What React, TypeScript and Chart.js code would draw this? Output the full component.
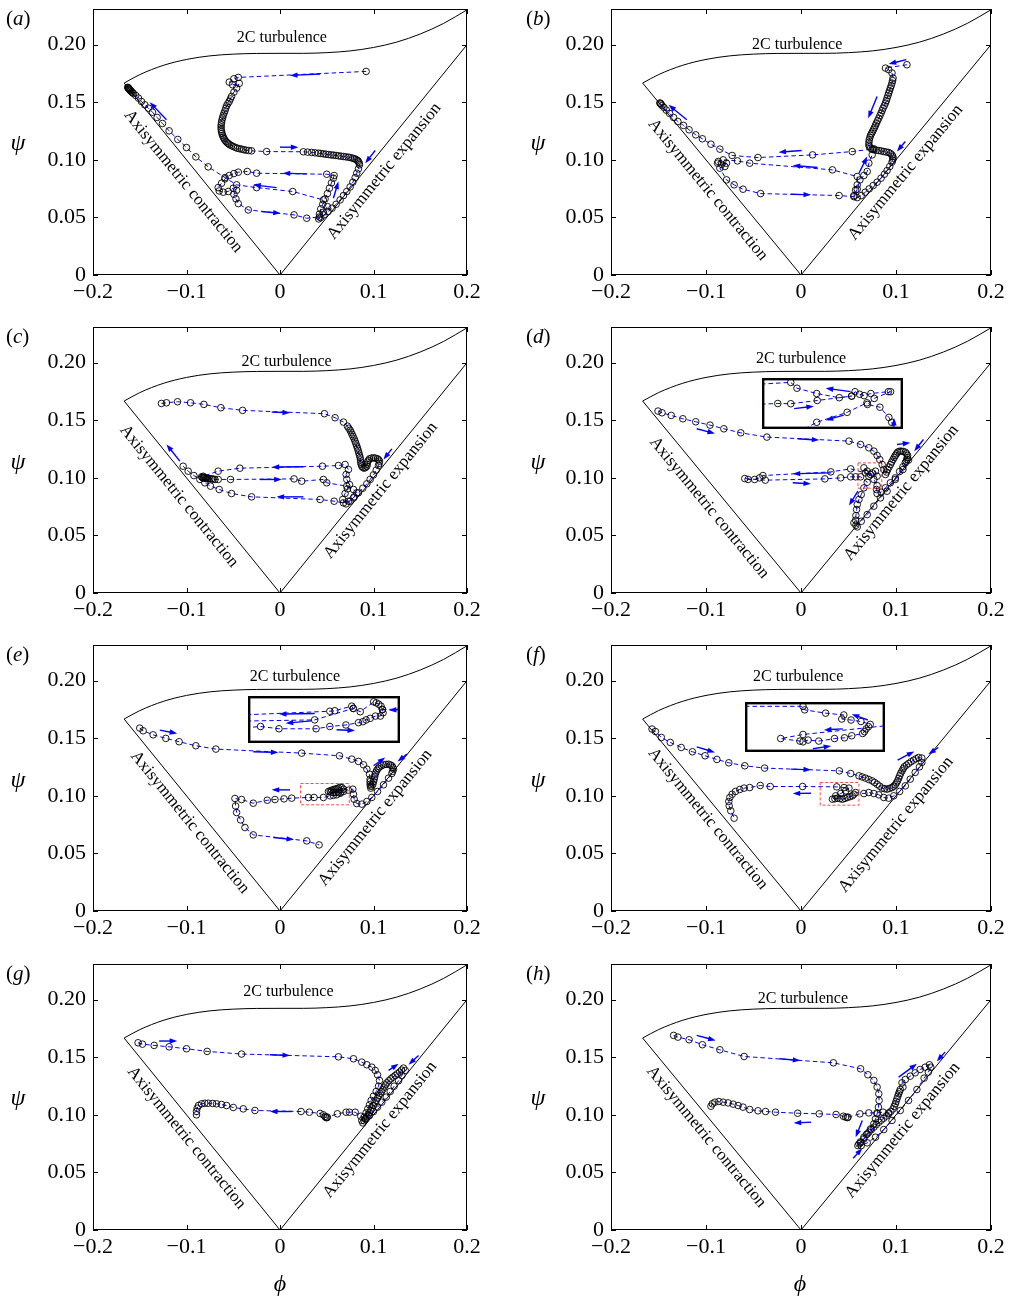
import React, { useEffect, useRef } from "react";
import { Chart, registerables } from "chart.js";
Chart.register(...registerables);

type Pt = [number, number];
type Arrow = [number, number, number, number];

const PHI_TICKS = [-0.2, -0.1, 0, 0.1, 0.2];
const PSI_TICKS = [0, 0.05, 0.1, 0.15, 0.2];
const PHI_MIN = -0.2;
const PHI_MAX = 0.2;
const PSI_MIN = 0;
const PSI_MAX = 0.231;

// Lumley triangle boundaries
const TWO_C_PHI = [-0.1667, -0.15, -0.125, -0.1, -0.075, -0.05, -0.025, 0, 0.025, 0.05, 0.075, 0.1, 0.125, 0.15, 0.175, 0.2];
const TWO_C_PSI = [0.1667, 0.174, 0.182, 0.1872, 0.1903, 0.1918, 0.1924, 0.1925, 0.1925, 0.1931, 0.1946, 0.1976, 0.2023, 0.2093, 0.2185, 0.2303];
const CONTRACTION: Pt[] = [[-0.1667, 0.1667], [0, 0]];
const EXPANSION: Pt[] = [[0, 0], [0.2, 0.2]];

// ---- trajectories (phi, psi) ----
const TRAJ_A: Pt[] = [
[0.0921,0.1768],[-0.0446,0.1716],[-0.0493,0.1704],[-0.0543,0.1675],[-0.0507,0.1652],[-0.0436,0.1664],[-0.0464,0.1623],[-0.0493,0.1588],
[-0.0518,0.1551],[-0.053,0.1529],[-0.0543,0.1507],[-0.0557,0.1489],[-0.0571,0.147],[-0.058,0.1448],[-0.0589,0.1426],[-0.0598,0.1406],[-0.0607,0.1386],[-0.0614,0.1365],[-0.0621,0.1345],[-0.0625,0.1324],[-0.0629,0.1304],[-0.063,0.1284],[-0.0629,0.1264],[-0.0625,0.1246],[-0.0621,0.1229],[-0.0614,0.1213],[-0.0607,0.1197],[-0.0598,0.1184],[-0.0589,0.1171],[-0.0577,0.1159],[-0.0564,0.1148],[-0.055,0.1139],[-0.0536,0.113],[-0.0518,0.1123],[-0.05,0.1116],[-0.0478,0.1108],[-0.0457,0.1101],[-0.0434,0.1097],[-0.0411,0.1093],[-0.0388,0.1088],[-0.0364,0.1084],[-0.0334,0.1081],[-0.0304,0.1078],[-0.0143,0.1072],
[0.025,0.107],[0.0295,0.1067],[0.0339,0.1064],[0.0375,0.1061],[0.0411,0.1058],[0.0437,0.1055],[0.0464,0.1052],[0.0491,0.1049],[0.0518,0.1046],[0.0545,0.1043],[0.0571,0.1041],[0.0598,0.1038],[0.0625,0.1035],[0.0652,0.1032],[0.0679,0.1029],[0.0705,0.1026],[0.0732,0.1023],[0.0756,0.1019],[0.0779,0.1014],[0.0798,0.1009],[0.0814,0.1003],[0.0829,0.0995],[0.0839,0.0986],[0.0847,0.0972],[0.085,0.0957],
[0.0839,0.0922],[0.0821,0.0884],[0.0804,0.0846],[0.0779,0.0806],[0.075,0.0765],[0.0714,0.0725],[0.0679,0.069],[0.0643,0.0652],[0.06,0.0614],[0.0557,0.058],[0.0514,0.0551],[0.0471,0.0522],[0.0436,0.0499],[0.0414,0.0487],
[0.0421,0.0528],[0.0436,0.0574],[0.0457,0.0614],[0.0482,0.0661],[0.0507,0.0707],[0.0529,0.0754],[0.055,0.08],[0.0571,0.0841],[0.0579,0.0864],[0.05,0.0875],
[-0.025,0.0884],[-0.035,0.0899],[-0.0446,0.0893],[-0.0493,0.0881],
[-0.0543,0.0864],[-0.0589,0.0835],[-0.0625,0.0797],[-0.0661,0.0759],[-0.065,0.073],[-0.0607,0.0719],[-0.0554,0.0725],[-0.05,0.0754],[-0.0464,0.0736],[-0.0493,0.0701],[-0.0471,0.0661],[-0.0446,0.062],[-0.0339,0.0565],
[0.015,0.0522],[0.0286,0.0493],[0.0421,0.0504],[0.0464,0.0545],[0.0507,0.0594],[0.0464,0.0652],[0.0136,0.0725],
[-0.025,0.0759],[-0.0464,0.0783],[-0.0589,0.0846],[-0.0768,0.0939],[-0.09,0.1026],[-0.1,0.1107],[-0.1093,0.1177],[-0.1186,0.1252],[-0.1257,0.1316],[-0.1314,0.1368],[-0.1364,0.1414],[-0.1407,0.1449],[-0.1446,0.1478],[-0.1482,0.1507],[-0.1514,0.1536],[-0.1543,0.1559],[-0.1568,0.1577],[-0.1579,0.1584],[-0.1586,0.1591],[-0.1596,0.1598],[-0.16,0.1603],[-0.1607,0.1608],[-0.1611,0.1612],[-0.1614,0.1616],[-0.1618,0.162],[-0.1621,0.1624],[-0.1625,0.1626],[-0.1629,0.163]
];

const TRAJ_B: Pt[] = [
[0.1115,0.1826],[0.0889,0.1797],[0.0923,0.1783],[0.0958,0.1754],[0.0969,0.171],[0.0964,0.1688],[0.0958,0.1667],[0.095,0.1645],[0.0941,0.1623],[0.0932,0.1601],[0.0923,0.158],[0.0915,0.1558],[0.0906,0.1536],[0.0898,0.1514],[0.0889,0.1493],[0.0877,0.1471],[0.0864,0.1449],[0.0854,0.1428],[0.0843,0.1406],[0.0831,0.1384],[0.0819,0.1362],[0.0806,0.134],[0.0794,0.1319],[0.0784,0.13],[0.0774,0.1281],[0.0763,0.1263],[0.0753,0.1246],[0.0742,0.1229],[0.0732,0.1212],[0.0725,0.1193],[0.0718,0.1174],[0.0715,0.1152],[0.0714,0.113],[0.072,0.1115],[0.0732,0.1101],[0.075,0.1092],[0.0767,0.1087],[0.0793,0.1084],[0.0819,0.1081],[0.0845,0.1077],[0.0871,0.1072],[0.0897,0.1068],[0.0923,0.1064],[0.0942,0.1055],[0.0958,0.1043],[0.0966,0.1029],[0.0969,0.1014],[0.0965,0.0997],[0.0958,0.098],
[0.0934,0.0942],[0.0906,0.0907],[0.0878,0.0875],[0.0843,0.0841],[0.0801,0.0806],[0.076,0.0777],[0.0718,0.0748],[0.0676,0.0719],[0.0634,0.069],[0.0592,0.0672],[0.0557,0.069],[0.0575,0.0739],[0.0592,0.0783],[0.0592,0.0855],
[0.0331,0.0913],[-0.054,0.0971],[-0.0669,0.0991],[-0.0819,0.1],[-0.0871,0.0986],[-0.0878,0.0971],[-0.0836,0.0962],[-0.0801,0.0942],[-0.0784,0.0971],[-0.0854,0.0928],[-0.0784,0.0826],[-0.0704,0.0783],[-0.061,0.0745],[-0.0425,0.0707],
[0.0401,0.069],[0.0557,0.068],[0.0592,0.0745],[0.062,0.0826],[0.0662,0.0864],[0.0697,0.0899],[0.0714,0.0971],[0.0749,0.1043],[0.0767,0.1096],
[0.054,0.1072],[0.0122,0.1043],[-0.0453,0.102],[-0.0725,0.1038],[-0.0854,0.1093],[-0.0948,0.1136],[-0.1038,0.1183],[-0.1108,0.1217],[-0.1178,0.1261],[-0.1237,0.1299],[-0.1296,0.1333],[-0.1341,0.1368],[-0.1383,0.1403],[-0.1418,0.1432],[-0.1443,0.1455],[-0.1463,0.1472],[-0.1474,0.1484],[-0.148,0.149],[-0.1486,0.1494]
];

const TRAJ_C: Pt[] = [
[-0.1268,0.1646],[-0.1214,0.1652],[-0.1096,0.1661],[-0.0957,0.1652],[-0.0814,0.1638],[-0.0632,0.1609],[-0.04,0.1586],[0.0475,0.1557],[0.0589,0.1522],[0.0679,0.1484],[0.0721,0.1449],[0.0736,0.1431],[0.075,0.1414],[0.076,0.1396],[0.0771,0.1377],[0.0782,0.1358],[0.0793,0.1339],[0.0802,0.1319],[0.0811,0.1299],[0.082,0.1278],[0.0829,0.1258],[0.0836,0.1238],[0.0843,0.1217],[0.085,0.1197],[0.0857,0.1177],[0.0861,0.1156],[0.0864,0.1136],[0.0868,0.1118],[0.0875,0.1101],[0.0886,0.109],[0.09,0.1084],[0.0915,0.109],[0.0929,0.1101],[0.0932,0.1118],[0.0936,0.1136],[0.0945,0.1152],[0.0957,0.1165],[0.0978,0.1171],[0.1,0.1174],[0.1021,0.1171],[0.1043,0.1165],[0.1055,0.1157],[0.1064,0.1145],[0.1061,0.1126],[0.1054,0.1107],
[0.1029,0.1067],[0.1,0.1026],[0.0964,0.0986],[0.0929,0.0948],[0.0886,0.091],[0.0839,0.087],[0.0793,0.0835],[0.075,0.0797],[0.0707,0.0774],[0.0671,0.0812],[0.0696,0.0864],[0.0721,0.0904],[0.0743,0.0942],[0.0714,0.0986],[0.0707,0.1029],[0.0732,0.1072],[0.0696,0.1116],[0.0625,0.1107],[0.0454,0.1101],
[-0.0429,0.1084],[-0.0661,0.1058],[-0.0821,0.1014],[-0.0839,0.1009],[-0.083,0.1003],[-0.0821,0.0998],[-0.0812,0.1005],[-0.0804,0.1],[-0.0795,0.0995],[-0.0786,0.0998],[-0.0777,0.0993],[-0.0768,0.0991],[-0.075,0.0993],[-0.0732,0.0991],[-0.0714,0.0989],[-0.0696,0.0986],[-0.0661,0.0986],[-0.0529,0.0986],
[0.015,0.0991],[0.0232,0.0971],[0.0464,0.0986],[0.05,0.0957],[0.0714,0.0928],[0.0786,0.0899],[0.0821,0.087],[0.0786,0.0826],[0.0732,0.0797],[0.0679,0.0783],[0.0579,0.0797],[0.0429,0.0812],
[-0.0304,0.0835],[-0.0518,0.0864],[-0.065,0.0899],[-0.0743,0.0928],[-0.0804,0.0957],[-0.0857,0.0986],[-0.0921,0.102],[-0.0982,0.1058],[-0.1036,0.1101]
];

const TRAJ_D: Pt[] = [
[-0.1505,0.158],[-0.1463,0.1565],[-0.1366,0.1542],[-0.1244,0.1513],[-0.1108,0.1487],[-0.0958,0.1458],[-0.0812,0.1426],[-0.0634,0.1391],[-0.0359,0.1354],[0.0505,0.1319],[0.0627,0.129],[0.0714,0.1261],[0.0767,0.1232],[0.0801,0.1194],[0.0829,0.1159],[0.0854,0.1116],[0.0871,0.1072],[0.0889,0.1029],
[0.0901,0.105],[0.0913,0.1072],[0.0927,0.1094],[0.0941,0.1116],[0.0955,0.1138],[0.0969,0.1159],[0.0981,0.1177],[0.0993,0.1194],[0.1005,0.1209],[0.1017,0.1223],[0.1034,0.123],[0.1052,0.1232],[0.1075,0.1229],[0.1098,0.1223],[0.1112,0.1209],[0.1122,0.1194],[0.1119,0.1176],[0.1115,0.1159],[0.1107,0.1145],[0.1098,0.113],
[0.1073,0.1096],[0.1038,0.1055],[0.0993,0.1],[0.0941,0.0957],[0.0889,0.0913],[0.0843,0.0875],[0.0801,0.0864],[0.0794,0.0899],[0.0801,0.0933],[0.0767,0.0986],[0.0732,0.1029],[0.0697,0.1058],[0.0662,0.1087],[0.0679,0.1043],[0.0714,0.1014],[0.0749,0.1043],[0.0784,0.1058],[0.0801,0.1014],
[0.0523,0.1078],[0.0314,0.1052],[-0.0401,0.102],[-0.0436,0.1],[-0.0488,0.0986],[-0.0557,0.0986],[-0.0592,0.0994],[-0.0376,0.098],[0.0251,0.0991],[0.0418,0.1],[0.0523,0.1009],[0.0575,0.1009],[0.0627,0.1009],
[0.0697,0.0962],[0.0662,0.0913],[0.0634,0.0855],[0.061,0.0812],[0.0592,0.0768],[0.0585,0.0725],[0.0578,0.0672],[0.0575,0.0632],[0.0557,0.0609],[0.0578,0.0588],[0.0592,0.0574],
[0.0634,0.0623],[0.0697,0.0681],[0.0767,0.0754],[0.0836,0.0826],[0.0906,0.0884],[0.0993,0.0986],[0.1073,0.1072],[0.1132,0.1154]
];

const TRAJ_E: Pt[] = [
[-0.15,0.1588],[-0.1464,0.1565],[-0.1357,0.153],[-0.1221,0.1499],[-0.1079,0.147],[-0.09,0.1435],[-0.0686,0.1406],[0.0232,0.1371],[0.0636,0.1348],[0.0768,0.1319],[0.0839,0.1299],[0.0893,0.127],[0.0929,0.1232],[0.0957,0.1188],[0.0964,0.1145],[0.0964,0.1123],[0.0964,0.1101],[0.0967,0.1084],[0.0971,0.1067],
[0.0982,0.1084],[0.0993,0.1101],[0.1,0.1123],[0.1007,0.1145],[0.1012,0.1166],[0.1018,0.1188],[0.1027,0.1206],[0.1036,0.1223],[0.105,0.1238],[0.1064,0.1252],[0.1085,0.1261],[0.1107,0.127],[0.1134,0.1273],[0.1161,0.1275],[0.118,0.1268],[0.1196,0.1261],[0.1207,0.1247],[0.1214,0.1232],[0.1205,0.1213],[0.1196,0.1194],
[0.1161,0.1154],[0.1107,0.1096],[0.1043,0.1038],[0.0982,0.0986],[0.0929,0.0951],[0.0875,0.0928],[0.0821,0.0933],[0.0793,0.0971],[0.0786,0.1014],[0.0779,0.1058],[0.0732,0.1049],[0.0679,0.1058],[0.0661,0.1072],[0.0643,0.1075],[0.0625,0.1067],[0.0607,0.1062],[0.0589,0.1058],[0.0571,0.1054],[0.0554,0.1049],[0.0536,0.1043],[0.0518,0.1038],[0.0545,0.1032],[0.0571,0.1029],[0.0598,0.1029],[0.0625,0.1029],[0.0652,0.1032],[0.0679,0.1038],[0.0643,0.1022],[0.0607,0.1009],[0.0571,0.1004],[0.0536,0.1],
[0.0464,0.0986],[0.0364,0.0986],[0.0304,0.0986],[0.0125,0.098],[0.0043,0.0974],[-0.0054,0.0968],[-0.0136,0.0962],[-0.0286,0.0936],[-0.0411,0.0968],[-0.0482,0.0977],[-0.0475,0.0912],[-0.0464,0.0855],[-0.0421,0.0791],[-0.0375,0.0725],[-0.0286,0.0661],[0.0286,0.0609],[0.0418,0.0574]
];

const TRAJ_F: Pt[] = [
[-0.1568,0.158],[-0.1533,0.1559],[-0.147,0.1507],[-0.1376,0.1464],[-0.1261,0.142],[-0.1143,0.1383],[-0.101,0.1348],[-0.0885,0.1316],[-0.076,0.1287],[-0.0592,0.1261],[-0.0383,0.1241],[0.0404,0.1217],[0.0523,0.1194],[0.061,0.1174],[0.0645,0.1164],[0.0679,0.1154],[0.0714,0.1142],[0.0749,0.113],[0.0775,0.1116],[0.0801,0.1101],[0.0828,0.1084],[0.0854,0.1067],[0.088,0.1062],[0.0906,0.1058],[0.0932,0.1065],[0.0958,0.1072],[0.0976,0.1084],[0.0993,0.1096],[0.1005,0.1113],[0.1017,0.113],[0.1028,0.1152],[0.1038,0.1174],[0.105,0.1196],[0.1063,0.1217],[0.1075,0.1235],[0.1087,0.1252],[0.111,0.1267],[0.1132,0.1281],[0.1158,0.1296],[0.1185,0.131],[0.1211,0.1322],[0.1237,0.1333],[0.1272,0.1328],[0.1272,0.129],[0.1247,0.1252],[0.1202,0.1203],[0.115,0.1145],[0.1098,0.1087],[0.1038,0.1038],[0.0976,0.1],[0.0923,0.098],[0.0871,0.0986],[0.0819,0.1009],[0.0767,0.102],[0.0714,0.1029],[0.0662,0.102],
[0.0575,0.1029],[0.0557,0.1014],[0.054,0.1],[0.0514,0.0993],[0.0488,0.0986],[0.0462,0.0978],[0.0436,0.0971],[0.041,0.0976],[0.0383,0.098],[0.0357,0.0975],[0.0331,0.0971],[0.0366,0.1],[0.0418,0.102],[0.047,0.1043],[0.0505,0.1067],[0.0453,0.1072],[0.0376,0.1078],
[0.0017,0.1081],[-0.0324,0.1081],[-0.0429,0.109],[-0.054,0.1072],[-0.0599,0.1067],[-0.0645,0.1055],[-0.069,0.1038],[-0.0725,0.1014],[-0.0749,0.0986],[-0.076,0.0951],[-0.0756,0.0913],[-0.0739,0.087],[-0.0704,0.0806]
];

const TRAJ_G: Pt[] = [
[-0.1518,0.1626],[-0.1471,0.1614],[-0.1346,0.1603],[-0.1186,0.1591],[-0.1,0.1574],[-0.0779,0.1551],[-0.0411,0.1528],[0.0625,0.1504],[0.0786,0.1487],[0.0875,0.1458],[0.0929,0.1435],[0.0982,0.1414],[0.1018,0.1386],[0.1043,0.1348],[0.1064,0.1299],[0.1054,0.1249],[0.1029,0.1203],[0.1,0.1162],[0.0975,0.1125],[0.0957,0.1087],[0.0939,0.1052],[0.0921,0.1017],[0.09,0.098],[0.0875,0.0951],[0.0886,0.093],
[0.09,0.0948],[0.0914,0.0965],[0.0929,0.0982],[0.0943,0.1],[0.0957,0.1019],[0.0971,0.1038],[0.0986,0.106],[0.1,0.1081],[0.1014,0.1103],[0.1029,0.1125],[0.1043,0.1146],[0.1057,0.1168],[0.1071,0.1186],[0.1086,0.1203],[0.11,0.1222],[0.1114,0.1241],[0.1129,0.126],[0.1143,0.1278],[0.1164,0.1296],[0.1186,0.1313],[0.1209,0.1328],[0.1232,0.1342],[0.1255,0.1357],[0.1279,0.1371],[0.13,0.1389],[0.1321,0.1406],[0.1339,0.1386],
[0.1304,0.1342],[0.1268,0.1296],[0.1221,0.1249],[0.1179,0.1203],[0.1136,0.1154],[0.1089,0.111],[0.1043,0.1067],[0.1,0.1029],[0.0957,0.0994],[0.0911,0.0965],[0.0864,0.0988],[0.0804,0.1023],[0.0743,0.1023],[0.0707,0.1023],[0.0614,0.1009],[0.0507,0.098],[0.05,0.0975],[0.049,0.0978],[0.0482,0.0986],[0.0464,0.1],[0.0429,0.1012],[0.0314,0.1023],[0.0225,0.1029],
[-0.0268,0.1038],[-0.0393,0.1052],[-0.05,0.1064],[-0.0571,0.1081],[-0.0625,0.109],[-0.0679,0.1096],[-0.0721,0.1099],[-0.0768,0.1101],[-0.0804,0.1101],[-0.0839,0.1096],[-0.0871,0.1081],[-0.0886,0.1058],[-0.0893,0.1029],[-0.0893,0.1]
];

const TRAJ_H: Pt[] = [
[-0.1341,0.169],[-0.1296,0.1675],[-0.1178,0.1652],[-0.1038,0.1609],[-0.0854,0.1565],[-0.0599,0.1507],[0.0341,0.1452],[0.0627,0.14],[0.0704,0.1348],[0.0767,0.1299],[0.0801,0.1241],[0.0819,0.1183],[0.0822,0.1125],[0.0815,0.1067],[0.0801,0.1009],[0.0784,0.0965],[0.0767,0.0922],[0.0732,0.0878],[0.0697,0.0835],[0.0662,0.0791],[0.0627,0.0757],[0.0599,0.0733],
[0.0625,0.0765],[0.0662,0.0806],[0.0688,0.0828],[0.0714,0.0849],[0.074,0.0871],[0.0767,0.0893],[0.0793,0.0915],[0.0819,0.0936],[0.0845,0.0954],[0.0871,0.0971],[0.0897,0.099],[0.0923,0.1009],[0.0946,0.103],[0.0969,0.1052],[0.0981,0.1074],[0.0993,0.1096],[0.1001,0.1117],[0.101,0.1139],[0.1019,0.1161],[0.1028,0.1183],[0.1036,0.1201],[0.1045,0.122],[0.1073,0.1241],[0.1063,0.1278],[0.1098,0.1307],[0.115,0.1336],[0.1202,0.1365],[0.1254,0.1394],[0.1307,0.1414],[0.1352,0.1435],[0.1366,0.1414],[0.1341,0.1371],
[0.1296,0.1319],[0.122,0.122],[0.1132,0.1125],[0.1045,0.1038],[0.0958,0.0951],[0.0871,0.0872],[0.0784,0.0806],[0.0697,0.0757],[0.0634,0.0733],[0.061,0.0748],
[0.0923,0.1017],[0.0864,0.1023],[0.0801,0.1017],[0.0714,0.1017],[0.062,0.1009],[0.0495,0.098],[0.0488,0.0976],[0.047,0.098],[0.0446,0.0988],[0.0369,0.1003],[0.0192,0.1009],[-0.0035,0.1014],[-0.0268,0.1023],[-0.0373,0.1029],[-0.0453,0.1035],[-0.054,0.1046],[-0.061,0.1067],[-0.0662,0.1081],[-0.0714,0.1093],[-0.0767,0.1104],[-0.0819,0.111],[-0.0864,0.1116],[-0.0906,0.111],[-0.0934,0.1096],[-0.0948,0.1075]
];

// ---- direction arrows (phi0, psi0, phi1, psi1) ----
const ARROWS_A: Arrow[] = [
[0.0429,0.1745,0.0107,0.1733],[0.0,0.111,0.0196,0.111],[0.1018,0.1081,0.0911,0.0971],[0.0571,0.0667,0.0625,0.0812],
[0.0286,0.0878,0.0029,0.0884],[-0.0036,0.0759,-0.0286,0.0783],[-0.0196,0.0551,0.0007,0.0536],[-0.1214,0.1348,-0.1393,0.1501]
];
const ARROWS_B: Arrow[] = [
[0.1108,0.187,0.0923,0.1832],[0.0801,0.1551,0.0707,0.1362],[0.1098,0.1159,0.101,0.1072],[0.0007,0.1081,-0.0237,0.1067],
[0.0174,0.0933,-0.0087,0.0951],[-0.1202,0.1348,-0.1394,0.1478],[0.061,0.0884,0.0697,0.1029],[-0.0105,0.0701,0.0105,0.0696]
];
const ARROWS_C: Arrow[] = [
[-0.0089,0.1571,0.0107,0.1565],[-0.1071,0.1145,-0.1214,0.129],[0.1196,0.1252,0.1107,0.1159],
[0.025,0.1096,-0.0089,0.1093],[-0.0214,0.0986,0.0018,0.0986],[0.025,0.0835,-0.0036,0.0835]
];
const ARROWS_D: Arrow[] = [
[-0.1098,0.1426,-0.0906,0.1386],[-0.0035,0.1339,0.0192,0.1328],[0.101,0.129,0.115,0.1304],[0.1289,0.1333,0.1192,0.1232],
[0.0314,0.1043,-0.0087,0.1035],[-0.0087,0.0957,0.0105,0.0948],[0.0599,0.0884,0.0505,0.0759]
];
const ARROWS_E: Arrow[] = [
[-0.1286,0.1571,-0.11,0.1542],[-0.0286,0.1383,-0.0018,0.1377],[0.1,0.1261,0.1125,0.1333],[0.1357,0.1362,0.1257,0.1299],
[0.0107,0.1052,-0.0089,0.1052],[-0.0071,0.0638,0.015,0.062]
];
const ARROWS_F: Arrow[] = [
[-0.1098,0.1426,-0.0906,0.1377],[-0.0105,0.1232,0.0105,0.1226],[0.1017,0.131,0.1192,0.1386],[0.1446,0.142,0.1341,0.1362],
[0.0105,0.1023,-0.0087,0.102]
];
const ARROWS_G: Arrow[] = [
[-0.1293,0.1641,-0.11,0.1641],[-0.0107,0.1522,0.0107,0.1516],[0.1161,0.1386,0.1268,0.1443],[0.1482,0.1516,0.1375,0.1435],
[0.0125,0.1029,-0.0107,0.1029]
];
const ARROWS_H: Arrow[] = [
[-0.1098,0.169,-0.0899,0.1646],[-0.0226,0.1487,-0.0007,0.1472],[0.1028,0.1328,0.122,0.1443],[0.1516,0.1545,0.1429,0.1464],
[0.0105,0.0936,-0.0077,0.093],[0.0645,0.0951,0.0575,0.0806],[0.055,0.0623,0.0645,0.071]
];

// ---- magnified insets ----
const INSET_D_PATHS: Pt[][] = [
[[0.0585,0.1102],[0.0651,0.1111],[0.0662,0.1086],[0.0697,0.1063],[0.0737,0.1045],[0.0759,0.1052],[0.0765,0.1071],[0.0773,0.106],[0.0781,0.1054],[0.0793,0.1063],[0.0824,0.1071],[0.0828,0.1071],[0.0799,0.1042],[0.0787,0.1016],[0.0809,0.1004],[0.0825,0.096],[0.083,0.0939],[0.0835,0.0895]],
[[0.0585,0.1016],[0.0628,0.102],[0.0651,0.1019],[0.0698,0.1033],[0.0759,0.1052]],
[[0.0664,0.0895],[0.0697,0.0939],[0.0751,0.0982],[0.0786,0.1023]]
];
const INSET_D_ARROWS: Arrow[] = [[0.0757,0.1071,0.0713,0.1086],[0.0657,0.0998,0.0692,0.1008],[0.0745,0.097,0.0713,0.0948],[0.0834,0.092,0.0834,0.0957]];

const INSET_E_PATHS: Pt[][] = [
[[0.019,0.1032],[0.05,0.1047],[0.0517,0.1049],[0.0575,0.1067],[0.058,0.1058],[0.0604,0.1045],[0.065,0.1084],[0.0659,0.108],[0.0667,0.1075],[0.0675,0.1067],[0.068,0.1054],[0.0682,0.1041],[0.0673,0.1028],[0.0656,0.1028],[0.0638,0.1019],[0.0624,0.1013],[0.0613,0.1006],[0.0598,0.1002],[0.0555,0.0993],[0.05,0.0987],[0.0453,0.0978],[0.0326,0.0978],[0.0263,0.0987],[0.019,0.098]],
[[0.077,0.1056],[0.068,0.1054]],
[[0.019,0.1008],[0.0448,0.1013],[0.058,0.1058]]
];
const INSET_E_ARROWS: Arrow[] = [[0.0448,0.1038,0.0326,0.1036],[0.0436,0.1009,0.0349,0.1],[0.0523,0.0974,0.0586,0.0971],[0.074,0.1054,0.0702,0.1051]];

const INSET_F_PATHS: Pt[][] = [
[[0.018,0.1099],[0.0371,0.1099],[0.0376,0.1085],[0.0437,0.1072],[0.049,0.1065],[0.0484,0.1049],[0.0511,0.1045],[0.054,0.1039],[0.0567,0.1028],[0.0562,0.1019],[0.0555,0.101],[0.055,0.0999],[0.0545,0.0992],[0.0513,0.0983],[0.0492,0.0975],[0.0463,0.0972],[0.0417,0.0962],[0.0386,0.0966],[0.0371,0.0959],[0.0362,0.0962],[0.0306,0.0972],[0.0371,0.0988],[0.063,0.1025]]
];
const INSET_F_ARROWS: Arrow[] = [[0.056,0.1045,0.0513,0.1068],[0.0487,0.101,0.0432,0.1006],[0.04,0.0932,0.0453,0.0943]];

const FONT = '"Liberation Serif", "DejaVu Serif", "Times New Roman", serif';
const BLUE = "#0000ff";

interface InsetCfg {
  rect: [number, number, number, number]; // phi0, phi1, psi0, psi1 in parent axes
  domain: [number, number, number, number]; // magnified phi0, phi1, psi0, psi1
  paths: Pt[][];
  arrows: Arrow[];
}
interface PanelCfg {
  letter: string;
  col: number;
  row: number;
  traj: Pt[];
  arrows: Arrow[];
  twoC: Pt;
  contraction: Pt;
  expansion: Pt;
  inset?: InsetCfg;
}

const PANELS: PanelCfg[] = [
  { letter: "a", col: 0, row: 0, traj: TRAJ_A, arrows: ARROWS_A, twoC: [0.002, 0.2058], contraction: [-0.1034, 0.0813], expansion: [0.1114, 0.09] },
  { letter: "b", col: 1, row: 0, traj: TRAJ_B, arrows: ARROWS_B, twoC: [-0.004, 0.2], contraction: [-0.098, 0.074], expansion: [0.11, 0.089] },
  { letter: "c", col: 0, row: 1, traj: TRAJ_C, arrows: ARROWS_C, twoC: [0.007, 0.2009], contraction: [-0.108, 0.084], expansion: [0.1077, 0.089] },
  { letter: "d", col: 1, row: 1, traj: TRAJ_D, arrows: ARROWS_D, twoC: [0.0, 0.2035], contraction: [-0.0966, 0.074], expansion: [0.1055, 0.087],
    inset: { rect: [-0.0408, 0.1073, 0.1426, 0.187], domain: [0.06, 0.085, 0.091, 0.113], paths: INSET_D_PATHS, arrows: INSET_D_ARROWS } },
  { letter: "e", col: 0, row: 2, traj: TRAJ_E, arrows: ARROWS_E, twoC: [0.016, 0.2035], contraction: [-0.0964, 0.077], expansion: [0.1018, 0.081],
    inset: { rect: [-0.0339, 0.1286, 0.1458, 0.187], domain: [0.022, 0.074, 0.0922, 0.1107], paths: INSET_E_PATHS, arrows: INSET_E_ARROWS } },
  { letter: "f", col: 1, row: 2, traj: TRAJ_F, arrows: ARROWS_F, twoC: [-0.003, 0.2035], contraction: [-0.098, 0.08], expansion: [0.1, 0.075],
    inset: { rect: [-0.0592, 0.0889, 0.1383, 0.1817], domain: [0.0202, 0.061, 0.0919, 0.1116], paths: INSET_F_PATHS, arrows: INSET_F_ARROWS } },
  { letter: "g", col: 0, row: 3, traj: TRAJ_G, arrows: ARROWS_G, twoC: [0.009, 0.2067], contraction: [-0.1, 0.08], expansion: [0.107, 0.087] },
  { letter: "h", col: 1, row: 3, traj: TRAJ_H, arrows: ARROWS_H, twoC: [0.002, 0.2009], contraction: [-0.0997, 0.081], expansion: [0.107, 0.0865] },
];

// layout (pixels)
const COL_PLOT = [[93, 467], [611, 991]];
const COL_CANVAS = [[0, 505], [505, 505]];
const ROW_TOP = [9, 327, 645, 964];
const PLOT_H = 266;
const PAD_TOP = 30;
const XAXIS_H = 45;
const LETTER_Y = [18, 336, 654, 973];
const PSI_LABEL_Y = [142, 461, 779, 1097];

const toXY = (pts: Pt[]) => pts.map(([x, y]) => ({ x, y }));
const fmtPsi = (v: number) => (Math.abs(v) < 1e-9 ? "0" : v.toFixed(2));
const fmtPhi = (v: number) => (Math.abs(v) < 1e-9 ? "0" : (v < 0 ? "\u2212" : "") + Math.abs(v).toFixed(1));

function drawArrow(ctx: CanvasRenderingContext2D, x1: number, y1: number, x2: number, y2: number) {
  const ang = Math.atan2(y2 - y1, x2 - x1);
  const c = Math.cos(ang), s = Math.sin(ang);
  const len = 7.5, half = 2.7;
  const bx = x2 - len * c, by = y2 - len * s;
  ctx.setLineDash([]);
  ctx.strokeStyle = BLUE;
  ctx.fillStyle = BLUE;
  ctx.lineWidth = 1.4;
  ctx.beginPath();
  ctx.moveTo(x1, y1);
  ctx.lineTo(bx + c, by + s);
  ctx.stroke();
  ctx.beginPath();
  ctx.moveTo(x2, y2);
  ctx.lineTo(bx - half * s, by + half * c);
  ctx.lineTo(bx + half * s, by - half * c);
  ctx.closePath();
  ctx.fill();
}

function trajDataset(pts: Pt[]) {
  return {
    data: toXY(pts),
    showLine: true,
    borderColor: BLUE,
    borderWidth: 1,
    borderDash: [4.5, 3],
    tension: 0,
    pointRadius: 3.3,
    pointBorderColor: "#000",
    pointBackgroundColor: "rgba(255,255,255,0)",
    pointBorderWidth: 0.9,
    clip: 0,
    order: 1,
  };
}

function Panel({ cfg }: { cfg: PanelCfg }) {
  const canvasRef = useRef<HTMLCanvasElement>(null);
  const insetRef = useRef<HTMLCanvasElement>(null);
  const [cl, cw] = COL_CANVAS[cfg.col];
  const [pl, pr] = COL_PLOT[cfg.col];
  const top = ROW_TOP[cfg.row] - PAD_TOP;
  const height = PAD_TOP + PLOT_H + XAXIS_H;

  useEffect(() => {
    const yW = pl - cl;
    const rightPad = cl + cw - pr;
    const decor = {
      id: "decor" + cfg.letter,
      afterDatasetsDraw(chart: any) {
        const ctx: CanvasRenderingContext2D = chart.ctx;
        const xs = chart.scales.x, ys = chart.scales.y;
        ctx.save();
        if (cfg.inset) {
          const d = cfg.inset.domain;
          const x0 = xs.getPixelForValue(d[0]), x1 = xs.getPixelForValue(d[1]);
          const y0 = ys.getPixelForValue(d[3]), y1 = ys.getPixelForValue(d[2]);
          ctx.strokeStyle = "rgba(255,40,40,0.85)";
          ctx.lineWidth = 1;
          ctx.setLineDash([3, 2]);
          ctx.strokeRect(x0, y0, x1 - x0, y1 - y0);
        }
        for (const a of cfg.arrows) {
          drawArrow(ctx, xs.getPixelForValue(a[0]), ys.getPixelForValue(a[1]), xs.getPixelForValue(a[2]), ys.getPixelForValue(a[3]));
        }
        ctx.restore();
      },
      afterDraw(chart: any) {
        const ctx: CanvasRenderingContext2D = chart.ctx;
        const xs = chart.scales.x, ys = chart.scales.y;
        const { left, right, top: t, bottom } = chart.chartArea;
        ctx.save();
        ctx.setLineDash([]);
        ctx.strokeStyle = "#000";
        ctx.lineWidth = 1;
        ctx.strokeRect(left + 0.5, t + 0.5, right - left - 1, bottom - t - 1);
        ctx.beginPath();
        for (const v of PHI_TICKS) {
          const x = Math.round(xs.getPixelForValue(v)) + 0.5;
          ctx.moveTo(x, bottom); ctx.lineTo(x, bottom - 5);
          ctx.moveTo(x, t); ctx.lineTo(x, t + 5);
        }
        for (const v of PSI_TICKS) {
          const y = Math.round(ys.getPixelForValue(v)) + 0.5;
          ctx.moveTo(left, y); ctx.lineTo(left + 5, y);
          ctx.moveTo(right, y); ctx.lineTo(right - 5, y);
        }
        ctx.stroke();
        ctx.fillStyle = "#000";
        ctx.textAlign = "center";
        ctx.textBaseline = "middle";
        ctx.font = "16px " + FONT;
        ctx.fillText("2C turbulence", xs.getPixelForValue(cfg.twoC[0]), ys.getPixelForValue(cfg.twoC[1]));
        ctx.font = "17px " + FONT;
        const angC = Math.atan2(
          ys.getPixelForValue(CONTRACTION[1][1]) - ys.getPixelForValue(CONTRACTION[0][1]),
          xs.getPixelForValue(CONTRACTION[1][0]) - xs.getPixelForValue(CONTRACTION[0][0])
        );
        ctx.save();
        ctx.translate(xs.getPixelForValue(cfg.contraction[0]), ys.getPixelForValue(cfg.contraction[1]));
        ctx.rotate(angC);
        ctx.fillText("Axisymmetric contraction", 0, 0);
        ctx.restore();
        const angE = Math.atan2(
          ys.getPixelForValue(EXPANSION[1][1]) - ys.getPixelForValue(EXPANSION[0][1]),
          xs.getPixelForValue(EXPANSION[1][0]) - xs.getPixelForValue(EXPANSION[0][0])
        );
        ctx.save();
        ctx.translate(xs.getPixelForValue(cfg.expansion[0]), ys.getPixelForValue(cfg.expansion[1]));
        ctx.rotate(angE);
        ctx.fillText("Axisymmetric expansion", 0, 0);
        ctx.restore();
        ctx.restore();
      },
    };

    const tickFont = { family: "Liberation Serif", size: 22 };
    const chart = new Chart(canvasRef.current as HTMLCanvasElement, {
      type: "scatter",
      data: {
        datasets: [
          { data: TWO_C_PHI.map((x, i) => ({ x, y: TWO_C_PSI[i] })), showLine: true, borderColor: "#000", borderWidth: 1, pointRadius: 0, cubicInterpolationMode: "monotone", order: 3 },
          { data: toXY(CONTRACTION), showLine: true, borderColor: "#000", borderWidth: 1, pointRadius: 0, order: 3 },
          { data: toXY(EXPANSION), showLine: true, borderColor: "#000", borderWidth: 1, pointRadius: 0, order: 3 },
          trajDataset(cfg.traj),
        ] as any,
      },
      options: {
        animation: false,
        responsive: false,
        events: [],
        layout: { autoPadding: false, padding: { left: 0, right: rightPad, top: PAD_TOP, bottom: 0 } },
        plugins: { legend: { display: false }, tooltip: { enabled: false }, title: { display: false } },
        scales: {
          x: {
            type: "linear", min: PHI_MIN, max: PHI_MAX,
            afterBuildTicks: (s: any) => { s.ticks = PHI_TICKS.map((value) => ({ value })); },
            afterFit: (s: any) => { s.height = XAXIS_H; },
            grid: { display: false, drawTicks: false },
            border: { display: false },
            ticks: { font: tickFont, color: "#000", padding: 4, maxRotation: 0, autoSkip: false, callback: (v: any) => fmtPhi(Number(v)) },
          },
          y: {
            type: "linear", min: PSI_MIN, max: PSI_MAX,
            afterBuildTicks: (s: any) => { s.ticks = PSI_TICKS.map((value) => ({ value })); },
            afterFit: (s: any) => { s.width = yW; },
            grid: { display: false, drawTicks: false },
            border: { display: false },
            ticks: { font: tickFont, color: "#000", padding: 7, autoSkip: false, callback: (v: any) => fmtPsi(Number(v)) },
          },
        },
      } as any,
      plugins: [decor as any],
    });

    let inset: Chart | null = null;
    if (cfg.inset && insetRef.current) {
      const ic = cfg.inset;
      const xs: any = chart.scales.x, ys: any = chart.scales.y;
      const l = Math.round(xs.getPixelForValue(ic.rect[0]));
      const r = Math.round(xs.getPixelForValue(ic.rect[1]));
      const tt = Math.round(ys.getPixelForValue(ic.rect[3]));
      const b = Math.round(ys.getPixelForValue(ic.rect[2]));
      const cv = insetRef.current;
      cv.width = r - l;
      cv.height = b - tt;
      cv.style.left = cl + l + "px";
      cv.style.top = top + tt + "px";
      cv.style.width = r - l + "px";
      cv.style.height = b - tt + "px";
      const insetDecor = {
        id: "insetDecor" + cfg.letter,
        beforeDatasetsDraw(c: any) {
          const { left, right, top: t2, bottom } = c.chartArea;
          c.ctx.save();
          c.ctx.fillStyle = "#fff";
          c.ctx.fillRect(left, t2, right - left, bottom - t2);
          c.ctx.restore();
        },
        afterDatasetsDraw(c: any) {
          const ctx: CanvasRenderingContext2D = c.ctx;
          const sx = c.scales.x, sy = c.scales.y;
          ctx.save();
          for (const a of ic.arrows) {
            drawArrow(ctx, sx.getPixelForValue(a[0]), sy.getPixelForValue(a[1]), sx.getPixelForValue(a[2]), sy.getPixelForValue(a[3]));
          }
          const { left, right, top: t2, bottom } = c.chartArea;
          ctx.setLineDash([]);
          ctx.strokeStyle = "#000";
          ctx.lineWidth = 2.4;
          ctx.strokeRect(left + 1.2, t2 + 1.2, right - left - 2.4, bottom - t2 - 2.4);
          ctx.restore();
        },
      };
      inset = new Chart(cv, {
        type: "scatter",
        data: { datasets: ic.paths.map((p) => trajDataset(p)) as any },
        options: {
          animation: false,
          responsive: false,
          events: [],
          layout: { autoPadding: false, padding: 0 },
          plugins: { legend: { display: false }, tooltip: { enabled: false } },
          scales: {
            x: { type: "linear", display: false, min: ic.domain[0], max: ic.domain[1] },
            y: { type: "linear", display: false, min: ic.domain[2], max: ic.domain[3] },
          },
        } as any,
        plugins: [insetDecor as any],
      });
    }

    return () => {
      chart.destroy();
      if (inset) inset.destroy();
    };
  }, []);

  return (
    <>
      <canvas ref={canvasRef} width={cw} height={height} style={{ position: "absolute", left: cl, top, width: cw, height }} />
      {cfg.inset ? <canvas ref={insetRef} style={{ position: "absolute" }} /> : null}
    </>
  );
}

export default function App() {
  return (
    <div style={{ position: "absolute", left: 0, top: 0, width: 1010, height: 1297, background: "#fff", overflow: "hidden", fontFamily: FONT, color: "#000" }}>
      {PANELS.map((p) => (
        <Panel key={p.letter} cfg={p} />
      ))}
      {PANELS.map((p) => (
        <span key={"l" + p.letter} style={{ position: "absolute", left: p.col === 0 ? 6 : 526, top: LETTER_Y[p.row] - 11, fontSize: 21, lineHeight: "22px", whiteSpace: "nowrap" }}>
          (<i>{p.letter}</i>)
        </span>
      ))}
      {PANELS.map((p) => (
        <span key={"psi" + p.letter} style={{ position: "absolute", left: p.col === 0 ? 18 : 538, top: PSI_LABEL_Y[p.row], transform: "translate(-50%, -50%)", fontSize: 24, fontStyle: "italic", lineHeight: "26px" }}>
          ψ
        </span>
      ))}
      {[280, 800].map((x) => (
        <span key={"phi" + x} style={{ position: "absolute", left: x, top: 1283, transform: "translate(-50%, -50%)", fontSize: 24, fontStyle: "italic", lineHeight: "26px" }}>
          ϕ
        </span>
      ))}
    </div>
  );
}
